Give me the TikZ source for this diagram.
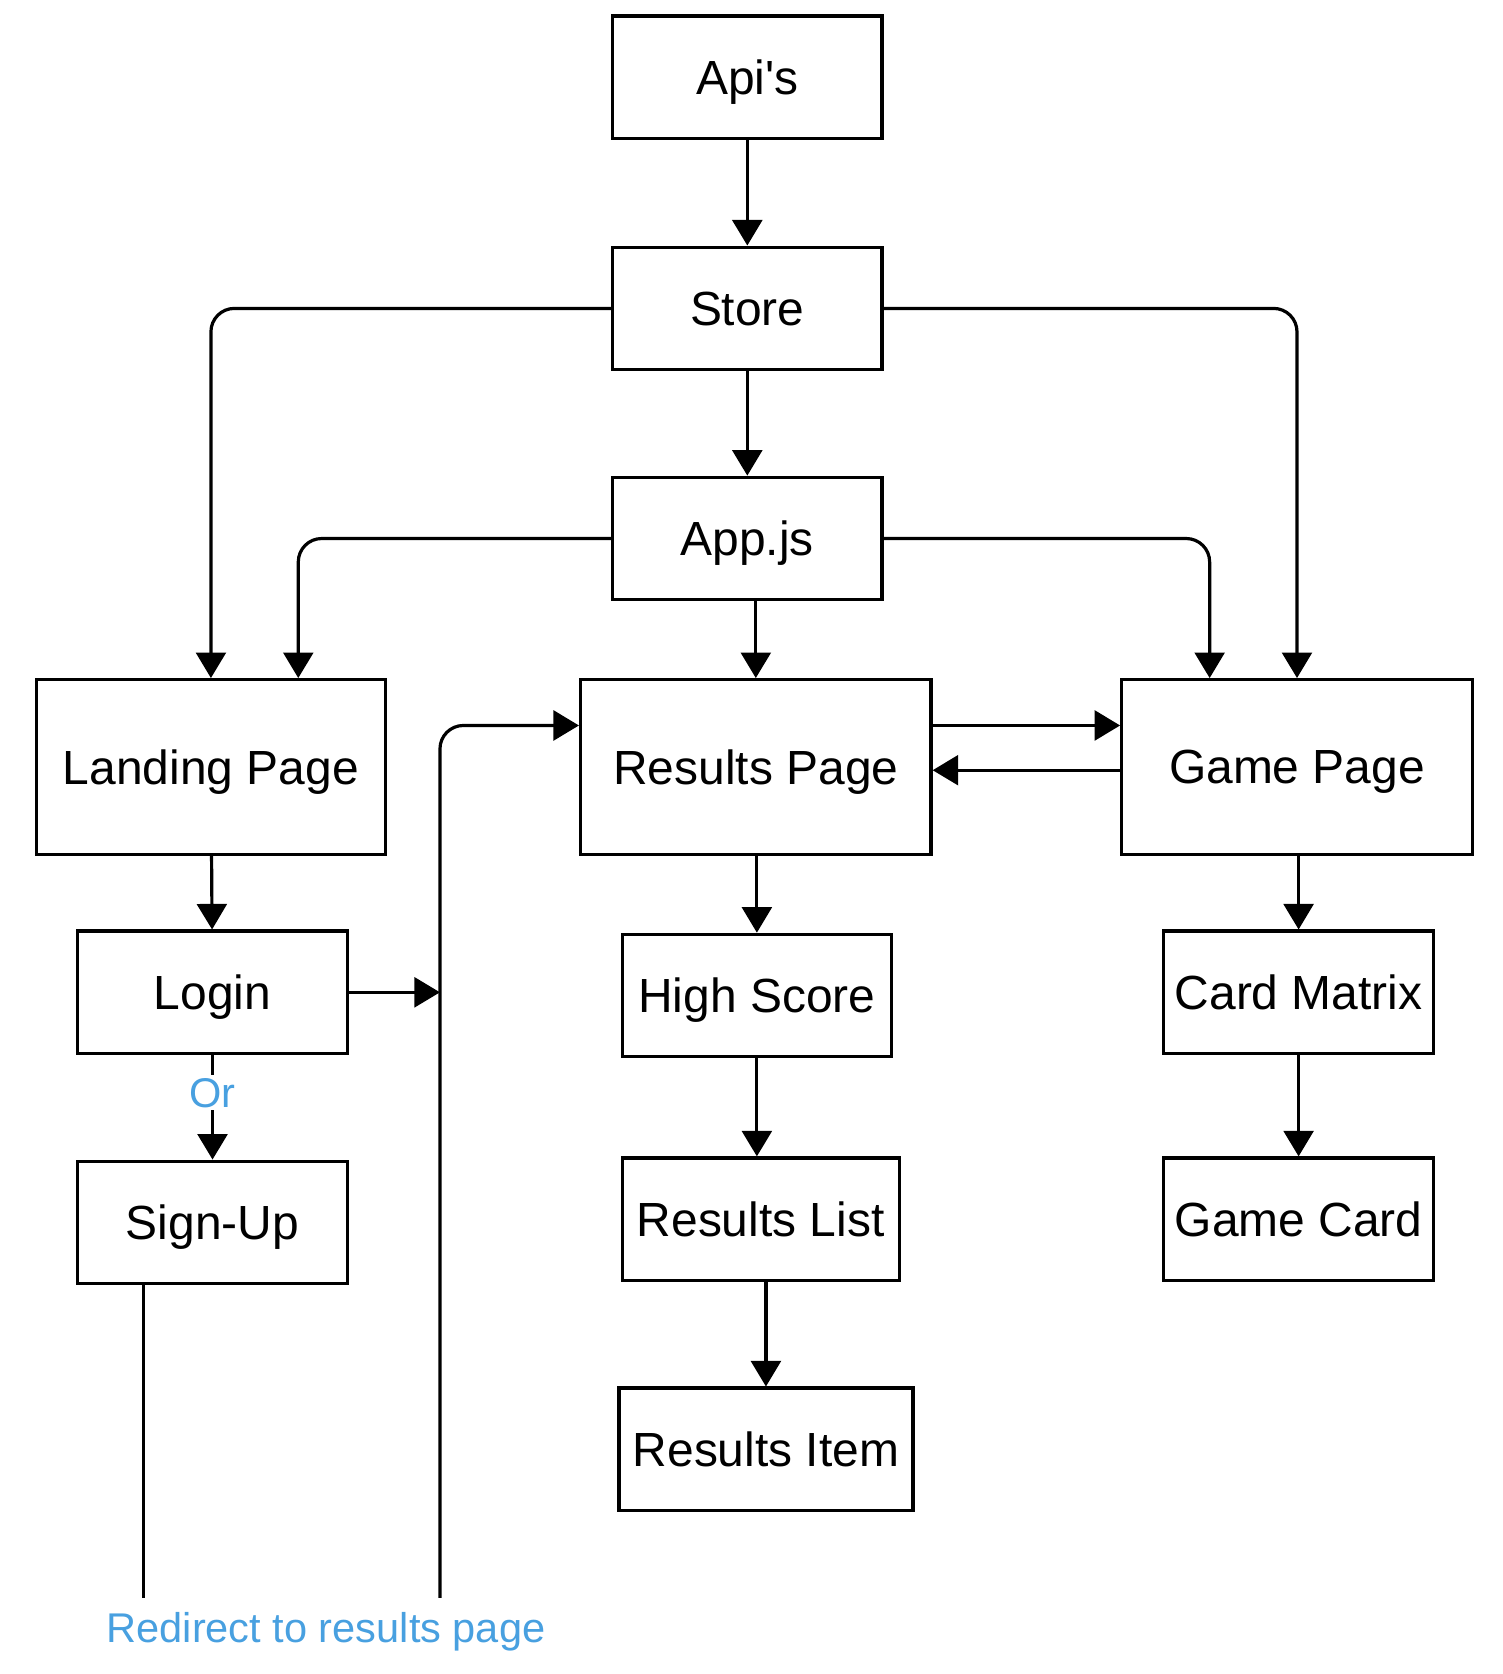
\documentclass[tikz,border=0pt]{standalone}
\usepackage{fontspec}
\setmainfont{Liberation Sans}
\usepackage{xcolor}
\usetikzlibrary{arrows.meta,positioning}
\definecolor{notecol}{HTML}{48A0E0}

\begin{document}
\begin{tikzpicture}[x=1pt,y=-1pt,line width=3pt,
  box/.style={rectangle,draw=black,fill=white,inner sep=0pt,minimum height=115pt,
    text depth=0pt,font=\fontsize{45}{54}\selectfont},
  bigbox/.style={box,minimum height=164pt,minimum width=329pt},
  note/.style={text=notecol,fill=white,inner sep=3pt,text depth=0pt,
    font=\fontsize{39}{46}\selectfont},
  arr/.style={-{Triangle[length=24pt,width=28pt]}},
  elbow/.style={arr,rounded corners=22pt}]
  \useasboundingbox (0,0) rectangle (1410,1571.4);

  \node[box,minimum width=253pt] (1) at (701.5,72.5) {Api\textquotesingle s};
  \node[box,minimum width=253pt] (2) at (701.5,289.5) {Store};
  \node[box,minimum width=253pt] (3) at (701.5,505.5) {App.js};
  \node[bigbox,minimum width=328pt] (4) at (198,720) {Landing Page};
  \node[bigbox] (5) at (709.5,720) {Results Page};
  \node[bigbox] (6) at (1217.5,720) {Game Page};
  \draw[arr] (1) -- (2);
  \draw[arr] (2) -- (3);
  \draw[arr] (3.south -| 5.north) -- (5.north);
  \draw[elbow] (2.west) -| (4.north);
  \draw[elbow] (2.east) -| (6.north);
  \draw[elbow] (3.west) -| ([xshift=82pt]4.north);
  \draw[elbow] (3.east) -| ([xshift=-82pt]6.north);
  \draw[arr] ([yshift=39pt]5.east) -- ([yshift=39pt]6.west);
  \draw[arr] ([yshift=-3pt]6.west) -- ([yshift=-3pt]5.east);

  \node[box,minimum width=253pt] (7) at (199.5,931.5) {Login};
  \node[box,minimum width=253pt] (8) at (199.5,1147.5) {Sign-Up};
  \draw[arr] (4) -- (7);
  \draw[arr] (7) -- node[note,pos=0.36] (9) {Or} (8);
  \coordinate (10) at (413,931.5);
  \coordinate (11) at (413,1500);
  \coordinate (12) at (135,1500);
  \draw[arr] (7.east) -- (10);
  \draw[elbow] (11) |- ([yshift=39pt]5.west);
  \draw (8.south -| 12) -- (12);
  \node[note,fill=none] (13) at (306,1528) {Redirect to results page};

  \node[box,minimum width=253pt] (14) at (710.5,934.5) {High Score};
  \node[box,minimum width=260pt] (15) at (714,1144.5) {Results List};
  \node[box,minimum width=276pt] (16) at (719,1360.5) {Results Item};
  \draw[arr] (5.south -| 14.north) -- (14.north);
  \draw[arr] (14.south) -- (14.south |- 15.north);
  \draw[arr] (15.south -| 16.north) -- (16.north);

  \node[box,minimum width=254pt] (17) at (1219,931.5) {Card Matrix};
  \node[box,minimum width=254pt] (18) at (1219,1144.5) {Game Card};
  \draw[arr] (6.south -| 17.north) -- (17.north);
  \draw[arr] (17) -- (18);

\end{tikzpicture}
\end{document}
